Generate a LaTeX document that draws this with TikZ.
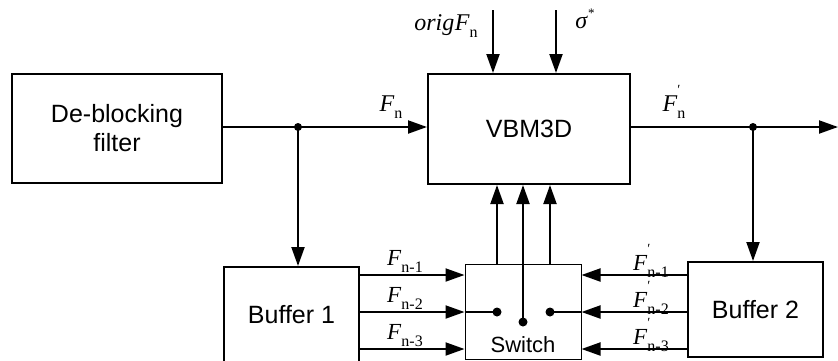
\documentclass[tikz,border=0pt]{standalone}
\usepackage{fontspec}
\setmainfont{Liberation Serif}
\newfontfamily\arialf{Liberation Sans}
\usetikzlibrary{arrows.meta}
\newcommand{\symb}[3]{\textit{#1}\makebox[0pt][l]{\raisebox{0.72em}{\fontsize{14}{14}\selectfont #3}}\raisebox{-0.3em}{\fontsize{16}{16}\selectfont #2}}
\begin{document}
\begin{tikzpicture}[x=1pt,y=-1pt,
 blk/.style={draw, line width=2pt, inner sep=0pt, font=\arialf\fontsize{25}{29}\selectfont, align=center},
 ln/.style={line width=2pt},
 arr/.style={line width=2pt, -{Triangle[length=19pt,width=13pt]}},
 dot/.style={circle, fill, inner sep=0pt, minimum size=9pt},
 jn/.style={circle, fill, inner sep=0pt, minimum size=8pt},
 lab/.style={font=\fontsize{24}{24}\selectfont, inner sep=0pt},
 slab/.style={font=\fontsize{23}{23}\selectfont, inner sep=0pt}]
\useasboundingbox (0,0) rectangle (838,360);
% blocks
\node[blk, minimum width=210pt, minimum height=109pt] (dbf) at (117,128.5) {De-blocking\\filter};
\node[blk, minimum width=202pt, minimum height=110pt] (vbm) at (529,129) {VBM3D};
\node[blk, minimum width=135pt, minimum height=95pt] (b1) at (291.5,314.5) {Buffer 1};
\node[blk, minimum width=135pt, minimum height=95pt] (b2) at (755.5,309.5) {Buffer 2};
\node[draw, line width=1pt, minimum width=116pt, minimum height=95pt, inner sep=0pt] (sw) at (523,311.5) {};
\node[font=\arialf\fontsize{22}{22}\selectfont, inner sep=0pt] (swl) at (523,345) {Switch};
% junctions and free ends
\node[jn] (j1) at (298,127) {};
\node[jn] (j2) at (753,127) {};
\coordinate (out) at (838,127);
\coordinate (o1) at (493,10);
\coordinate (o2) at (556,10);
\coordinate (h1) at (0,275);
\coordinate (h2) at (0,312);
\coordinate (h3) at (0,349);
\coordinate (ua) at (497,0);
\coordinate (uc) at (550,0);
\node[dot] (dl) at (497,312) {};
\node[dot] (dm) at (523,322) {};
\node[dot] (dr) at (550,312) {};
% main line
\draw[ln] (dbf.east |- j1) -- (j1.center);
\draw[arr] (j1.center) -- (vbm.west |- j1);
\draw[arr] (j1.center) -- (j1 |- b1.north);
\draw[ln] (vbm.east |- j2) -- (j2.center);
\draw[arr] (j2.center) -- (out);
\draw[arr] (j2.center) -- (j2 |- b2.north);
% top inputs
\draw[arr] (o1) -- (o1 |- vbm.north);
\draw[arr] (o2) -- (o2 |- vbm.north);
\node[lab] (ol) at (446,25) {\symb{orig\kern0.5pt F}{n}{}};
\node[lab] (sl) at (585,19) {\textit{σ}\raisebox{0.45em}{\fontsize{13}{13}\selectfont *}};
\node[lab] (fn) at (391,106) {\symb{F}{n}{}};
\node[lab] (fpn) at (674,102) {\symb{F}{n}{′}};
% switch up arrows
\draw[arr] (ua |- sw.north) -- (ua |- vbm.south);
\draw[arr] (dm.center) -- (dm |- vbm.south);
\draw[arr] (uc |- sw.north) -- (uc |- vbm.south);
% left inputs
\draw[arr] (b1.east |- h1) -- (sw.west |- h1);
\draw[arr] (b1.east |- h2) -- (sw.west |- h2);
\draw[arr] (b1.east |- h3) -- (sw.west |- h3);
\draw[ln] (sw.west |- dl) -- (dl.center);
% right inputs
\draw[arr] (b2.west |- h1) -- (sw.east |- h1);
\draw[arr] (b2.west |- h2) -- (sw.east |- h2);
\draw[arr] (b2.west |- h3) -- (sw.east |- h3);
\draw[ln] (sw.east |- dr) -- (dr.center);
% labels
\node[slab] (l1) at (405,261) {\symb{F}{n-1}{}};
\node[slab] (l2) at (405,298) {\symb{F}{n-2}{}};
\node[slab] (l3) at (405,335) {\symb{F}{n-3}{}};
\node[slab] (r1) at (651,261) {\symb{F}{n-1}{′}};
\node[slab] (r2) at (651,298) {\symb{F}{n-2}{′}};
\node[slab] (r3) at (651,335) {\symb{F}{n-3}{′}};
\end{tikzpicture}
\end{document}
